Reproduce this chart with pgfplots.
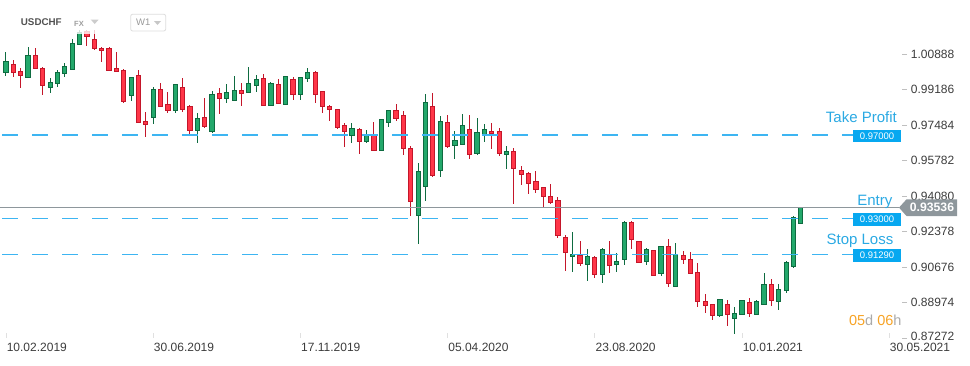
\documentclass[border=0pt]{standalone}
\usepackage{fontspec}
\setmainfont{Liberation Sans}
\usepackage{pgfplots}
\usepackage{pgfplotstable}
\pgfplotsset{compat=1.18}
\definecolor{upfill}{HTML}{23A86B}
\definecolor{upedge}{HTML}{0E6B40}
\definecolor{dnfill}{HTML}{FF3648}
\definecolor{dnedge}{HTML}{C4162A}
\definecolor{lvl}{HTML}{3DB5F2}
\definecolor{lvltext}{HTML}{2AA9E3}
\definecolor{lvlbox}{HTML}{07A8F0}
\definecolor{entryc}{HTML}{8E979C}
\definecolor{ticktext}{HTML}{3C3C3C}
\definecolor{orangeT}{HTML}{F7A325}
\definecolor{lgray}{HTML}{AAAAAA}

% weekly candles: x = week index (0 = 10.02.2019), open high low close
\pgfplotstableread{
x o h l c
0 0.9999 1.0097 0.9985 1.0055
3 0.9977 1.0121 0.9977 1.0083
6 0.9929 0.9972 0.9903 0.9953
7 0.9948 1.0011 0.9932 1.0001
8 0.9996 1.0044 0.9980 1.0030
9 1.0015 1.0159 1.0011 1.0140
10 1.0135 1.0204 1.0135 1.0194
17 0.9891 0.9980 0.9865 0.9974
20 0.9785 0.9929 0.9752 0.9920
23 0.9817 0.9943 0.9804 0.9943
26 0.9721 0.9804 0.9661 0.9780
28 0.9716 0.9913 0.9711 0.9896
30 0.9876 0.9945 0.9855 0.9905
31 0.9868 0.9983 0.9865 0.9915
33 0.9905 1.0028 0.9900 0.9948
34 0.9939 0.9988 0.9905 0.9967
36 0.9841 0.9953 0.9841 0.9948
38 0.9848 0.9982 0.9848 0.9982
40 0.9894 0.9977 0.9870 0.9977
41 0.9972 1.0022 0.9956 1.0001
47 0.9697 0.9757 0.9664 0.9733
49 0.9668 0.9724 0.9661 0.9704
51 0.9625 0.9776 0.9625 0.9776
52 0.9759 0.9819 0.9740 0.9819
56 0.9315 0.9566 0.9179 0.9526
57 0.9455 0.9896 0.9384 0.9857
59 0.9531 0.9790 0.9501 0.9766
61 0.9649 0.9720 0.9587 0.9675
62 0.9654 0.9801 0.9654 0.9747
64 0.9611 0.9782 0.9606 0.9713
65 0.9702 0.9752 0.9665 0.9728
68 0.9606 0.9646 0.9539 0.9622
77 0.9119 0.9234 0.9045 0.9129
79 0.9081 0.9152 0.9002 0.9119
81 0.9031 0.9159 0.8992 0.9152
83 0.9079 0.9133 0.9045 0.9095
84 0.9103 0.9288 0.9079 0.9283
87 0.9095 0.9159 0.9079 0.9152
89 0.9036 0.9167 0.9026 0.9167
91 0.8975 0.9181 0.8975 0.9129
97 0.8834 0.8913 0.8829 0.8913
99 0.8822 0.8874 0.8748 0.8846
100 0.8841 0.8908 0.8841 0.8908
102 0.8841 0.8908 0.8841 0.8903
103 0.8889 0.9037 0.8889 0.8985
105 0.8903 0.8985 0.8863 0.8961
106 0.8956 0.9095 0.8942 0.9090
107 0.9069 0.9311 0.9064 0.9306
108 0.9277 0.93536 0.9277 0.93536
}\upc

\pgfplotstableread{
x o h l c
1 1.0039 1.0060 0.9980 1.0001
2 1.0006 1.0020 0.9927 0.9987
4 1.0083 1.0116 1.0015 1.0018
5 1.0020 1.0025 0.9894 0.9939
11 1.0199 1.0204 1.0129 1.0172
12 1.0159 1.0204 1.0106 1.0116
13 1.0116 1.0121 1.0052 1.0105
14 1.0113 1.0121 1.0009 1.0009
15 1.0020 1.0097 1.0004 1.0004
16 1.0011 1.0017 0.9855 0.9859
18 0.9988 1.0012 0.9757 0.9761
19 0.9763 0.9811 0.9692 0.9752
21 0.9920 0.9950 0.9836 0.9836
22 0.9848 0.9907 0.9807 0.9817
24 0.9929 0.9974 0.9812 0.9824
25 0.9838 0.9843 0.9696 0.9721
27 0.9785 0.9878 0.9735 0.9740
29 0.9900 0.9924 0.9800 0.9876
32 0.9915 0.9948 0.9841 0.9900
35 0.9972 0.9991 0.9841 0.9841
37 0.9943 0.9967 0.9850 0.9852
39 0.9967 0.9977 0.9870 0.9894
42 1.0001 1.0006 0.9855 0.9894
43 0.9910 0.9910 0.9804 0.9836
44 0.9838 0.9843 0.9769 0.9822
45 0.9824 0.9827 0.9729 0.9735
46 0.9748 0.9759 0.9643 0.9716
48 0.9728 0.9733 0.9611 0.9668
50 0.9704 0.9763 0.9625 0.9625
53 0.9819 0.9849 0.9768 0.9779
54 0.9796 0.9815 0.9605 0.9637
55 0.9637 0.9649 0.9314 0.9381
58 0.9839 0.9902 0.9501 0.9505
60 0.9761 0.9796 0.9640 0.9644
63 0.9728 0.9796 0.9587 0.9608
66 0.9718 0.9757 0.9635 0.9709
67 0.9718 0.9733 0.9601 0.9611
69 0.9622 0.9637 0.9371 0.9539
70 0.9531 0.9552 0.9462 0.9512
71 0.9517 0.9523 0.9419 0.9467
72 0.9478 0.9528 0.9424 0.9440
73 0.9450 0.9450 0.9357 0.9407
74 0.9407 0.9464 0.9368 0.9378
75 0.9387 0.9402 0.9208 0.9218
76 0.9210 0.9220 0.9050 0.9138
78 0.9124 0.9192 0.9074 0.9083
80 0.9114 0.9119 0.9016 0.9031
82 0.9129 0.9192 0.9040 0.9074
85 0.9283 0.9288 0.9155 0.9199
86 0.9191 0.9191 0.9090 0.9090
88 0.9148 0.9148 0.9028 0.9028
90 0.9167 0.9202 0.8973 0.8990
92 0.9124 0.9143 0.9083 0.9105
93 0.9105 0.9138 0.9037 0.9037
94 0.9042 0.9085 0.8877 0.8903
95 0.8903 0.8937 0.8846 0.8882
96 0.8889 0.8889 0.8815 0.8836
98 0.8889 0.8908 0.8786 0.8841
101 0.8898 0.8918 0.8829 0.8846
104 0.8985 0.9009 0.8882 0.8908
}\dnc

\pgfplotsset{
  wick/.style={draw=none, mark=none, forget plot,
    error bars/.cd, y dir=both, y explicit, error mark=none,
    error bar style={draw=#1, line width=1pt, solid}},
  body/.style 2 args={draw=none, mark=none, forget plot,
    error bars/.cd, y dir=both, y explicit, error mark=none,
    error bar style={draw=#1, line width=#2, solid}},
}

\begin{document}
\begin{tikzpicture}
\useasboundingbox (0pt,0pt) rectangle (970pt,-365pt);
\begin{axis}[
  at={(0pt,0pt)}, anchor=north west,
  scale only axis, width=907pt, height=338pt,
  xmin=-0.815, xmax=122.42, ymin=0.87273, ymax=1.03476,
  axis line style={draw=none},
  clip=false,
  xtick={0,20,40,60,80,100,120},
  xticklabels={10.02.2019,30.06.2019,17.11.2019,05.04.2020,23.08.2020,10.01.2021,30.05.2021},
  ytick={0.87272,0.88974,0.90676,0.92378,0.94080,0.95782,0.97484,0.99186,1.00888},
  yticklabels={\raisebox{4pt}{0.87272},0.88974,0.90676,0.92378,0.94080,0.95782,0.97484,0.99186,1.00888},
  xtick pos=left, ytick pos=right, yticklabel pos=right,
  major tick length=5pt,
  xtick style={draw=black!12, line width=0.8pt},
  ytick style={draw=black!25, line width=0.8pt},
  xticklabel style={anchor=north west, inner sep=0pt, yshift=-5.3pt, xshift=0.6pt,
    font=\fontsize{12}{14}\selectfont, text=ticktext},
  yticklabel style={anchor=west, inner sep=0pt, xshift=3.7pt,
    font=\fontsize{12}{14}\selectfont, text=ticktext},
]
% wicks
\addplot[wick=upedge] table[x=x, y expr={(\thisrow{h}+\thisrow{l})/2}, y error expr={(\thisrow{h}-\thisrow{l})/2}] {\upc};
\addplot[wick=dnedge] table[x=x, y expr={(\thisrow{h}+\thisrow{l})/2}, y error expr={(\thisrow{h}-\thisrow{l})/2}] {\dnc};
% bodies: outline
\addplot[body={upedge}{5.2pt}] table[x=x, y expr={(\thisrow{o}+\thisrow{c})/2}, y error expr={abs(\thisrow{o}-\thisrow{c})/2+0.00025}] {\upc};
\addplot[body={dnedge}{5.2pt}] table[x=x, y expr={(\thisrow{o}+\thisrow{c})/2}, y error expr={abs(\thisrow{o}-\thisrow{c})/2+0.00025}] {\dnc};
% bodies: fill
\addplot[body={upfill}{3.2pt}] table[x=x, y expr={(\thisrow{o}+\thisrow{c})/2}, y error expr={max(abs(\thisrow{o}-\thisrow{c})/2-0.00025,0)}] {\upc};
\addplot[body={dnfill}{3.2pt}] table[x=x, y expr={(\thisrow{o}+\thisrow{c})/2}, y error expr={max(abs(\thisrow{o}-\thisrow{c})/2-0.00025,0)}] {\dnc};
% levels
\addplot[lvl, line width=1.2pt, dash pattern=on 16pt off 14pt, dash phase=28pt] coordinates {(-0.815,0.97) (115.1,0.97)};
\addplot[lvl, line width=1.2pt, dash pattern=on 16pt off 14pt, dash phase=28pt] coordinates {(-0.815,0.93) (115.1,0.93)};
\addplot[lvl, line width=1.2pt, dash pattern=on 16pt off 14pt, dash phase=28pt] coordinates {(-0.815,0.9129) (115.1,0.9129)};
\addplot[entryc, line width=1.1pt] coordinates {(-0.815,0.93536) (121.4,0.93536)};
% level boxes
\node[fill=lvlbox, text=white, minimum width=48pt, minimum height=12.7pt, inner sep=0pt,
  font=\fontsize{9.5}{10}\selectfont, yshift=-1pt] at (axis cs:118.35,0.97) {0.97000};
\node[fill=lvlbox, text=white, minimum width=48pt, minimum height=12.7pt, inner sep=0pt,
  font=\fontsize{9.5}{10}\selectfont, yshift=-1pt] at (axis cs:118.35,0.93) {0.93000};
\node[fill=lvlbox, text=white, minimum width=48pt, minimum height=12.7pt, inner sep=0pt,
  font=\fontsize{9.5}{10}\selectfont, yshift=-1pt] at (axis cs:118.35,0.9129) {0.91290};
\end{axis}
\begin{scope}[x=1pt, y=-1pt]
  % header fade
  \fill[white, opacity=0.8] (0,0) rectangle (180,34);
  \node[anchor=west, inner sep=0pt, font=\fontsize{9.8}{11}\selectfont\bfseries, text=black!68] at (20.7,22) {USDCHF};
  \node[anchor=west, inner sep=0pt, font=\fontsize{7.5}{9}\selectfont\bfseries, text=black!38] at (74,23.5) {FX};
  \fill[black!20] (90.7,19.5) -- (98.7,19.5) -- (94.7,24) -- cycle;
  \draw[black!13, line width=0.8pt, rounded corners=2pt] (130.7,14.2) rectangle (165.7,31);
  \node[anchor=west, inner sep=0pt, font=\fontsize{9.5}{11}\selectfont, text=black!40] at (136,22.6) {W1};
  \fill[black!22] (154,21) -- (161,21) -- (157.5,25) -- cycle;
  % level labels
  \node[anchor=east, inner sep=0pt, font=\fontsize{15}{17}\selectfont, text=lvltext] at (897,117.5) {Take Profit};
  \node[anchor=east, inner sep=0pt, font=\fontsize{15}{17}\selectfont, text=lvltext] at (892.5,201.5) {Entry};
  \node[anchor=east, inner sep=0pt, font=\fontsize{15}{17}\selectfont, text=lvltext] at (893.5,241) {Stop Loss};
  % entry price tag
  \fill[entryc] (899,207.6) -- (906.5,199.3) -- (957,199.3) -- (957,216) -- (906.5,216) -- cycle;
  \node[inner sep=0pt, font=\fontsize{12.2}{14}\selectfont\bfseries, text=white] at (932,207.7) {0.93536};
  % countdown
  \node[anchor=east, inner sep=0pt, font=\fontsize{14.5}{16}\selectfont] at (901.7,320)
    {\textcolor{orangeT}{05}\textcolor{lgray}{d} \textcolor{orangeT}{06}\textcolor{lgray}{h}};
\end{scope}
\end{tikzpicture}
\end{document}
